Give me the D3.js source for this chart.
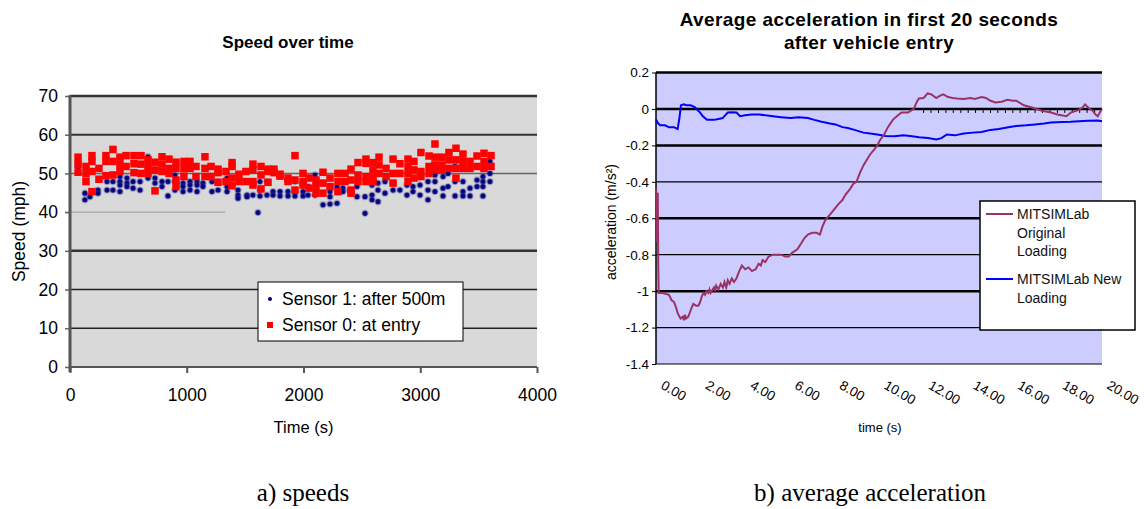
<!DOCTYPE html>
<html><head><meta charset="utf-8">
<script src="https://cdn.jsdelivr.net/npm/d3@7/dist/d3.min.js"></script>
<style>
body{margin:0;background:#fff;}
svg{display:block;font-family:"Liberation Sans",Arial,sans-serif;}
</style></head>
<body>
<svg id="c" width="1144" height="509"></svg>
<script>
// ---------- Left chart data: speed over time ----------
const speedTicks = [0,10,20,30,40,50,60,70];
const timeTicks = [0,1000,2000,3000,4000];
const speedSeriesNames = ["Sensor 1: after 500m","Sensor 0: at entry"];
// Sensor 0 (at entry): [time (s), speed (mph)]
const sensor0 = [
[69,54.2],[69,52.3],[69,50.3],[137,51.8],[137,49.9],[137,47.9],
[188,54.6],[188,53.1],[188,50.5],[188,45.3],[248,51.3],[248,48.5],
[308,54.6],[308,53.1],[308,49.4],[368,56.2],[368,53.1],[368,49.6],
[428,54.2],[428,52.3],[428,50.5],[480,54.6],[480,51.8],
[548,54.6],[548,52.5],[548,50.2],[608,54.6],[608,52.4],[608,50.0],
[668,53.5],[668,51.8],[668,50.0],[728,52.9],[728,50.9],[728,45.5],
[788,54.3],[788,52.4],[788,50.5],[848,53.7],[848,51.3],[848,50.0],
[908,52.9],[908,51.3],[908,48.3],[908,46.6],[976,53.1],[976,51.2],[976,49.2],
[1028,53.1],[1028,51.3],[1079,51.8],[1079,49.2],[1156,54.3],[1156,51.3],[1156,49.2],
[1208,51.8],[1208,49.2],[1268,51.1],[1268,50.2],[1268,47.7],[1336,50.5],[1336,47.9],
[1388,52.8],[1388,51.8],[1388,48.8],[1388,46.8],[1447,49.8],[1447,47.9],
[1507,50.5],[1507,47.9],[1567,52.4],[1567,50.9],[1567,47.9],[1567,47.0],
[1636,51.8],[1636,49.6],[1636,46.0],[1696,51.1],[1696,50.5],[1696,47.7],
[1747,51.1],[1747,50.2],[1799,49.8],[1799,49.3],[1867,48.8],[1867,47.9],
[1927,54.6],[1927,48.3],[1927,45.7],[1996,50.0],[1996,47.9],[1996,47.0],
[2047,48.8],[2047,46.2],[2107,48.3],[2107,46.6],[2107,44.9],
[2167,50.3],[2167,47.5],[2167,44.9],[2227,48.8],[2227,46.6],
[2295,50.0],[2295,47.9],[2295,45.3],[2355,50.0],[2355,47.9],
[2407,51.1],[2407,48.3],[2407,45.7],[2407,44.9],[2467,52.8],[2467,49.6],[2467,47.9],
[2535,53.7],[2535,52.6],[2535,49.2],[2535,47.9],[2595,52.8],[2595,50.9],[2595,49.0],[2595,47.9],
[2647,54.2],[2647,52.2],[2647,50.0],[2707,51.3],[2707,49.2],
[2767,53.7],[2767,50.0],[2767,47.5],[2826,52.5],[2826,50.0],
[2895,53.7],[2895,51.8],[2895,49.9],[2895,47.9],[2946,53.1],[2946,50.9],[2946,48.8],
[3006,55.4],[3006,50.5],[3006,49.2],[3075,54.5],[3075,51.8],[3075,50.0],
[3126,57.6],[3126,54.2],[3126,52.2],[3126,50.9],[3186,54.2],[3186,52.2],[3186,50.9],
[3246,55.4],[3246,53.5],[3246,51.3],[3306,56.5],[3306,53.5],[3306,51.3],[3306,48.8],
[3366,55.0],[3366,53.1],[3366,51.3],[3426,53.1],[3426,51.3],[3486,54.5],[3486,51.8],
[3546,55.2],[3546,53.1],[3546,51.3],[3606,54.6],[3606,51.8]
];
// Sensor 1 (after 500m): [time (s), speed (mph)]
const sensor1 = [
[69,53.0],[69,51.6],[128,44.9],[128,43.2],[171,44.0],[240,45.7],[240,44.9],
[317,47.9],[317,45.7],[368,47.9],[368,45.7],[428,49.2],[428,47.9],[428,47.0],[428,45.3],
[488,48.8],[488,47.5],[488,46.6],[540,47.9],[540,46.2],[600,47.9],[600,45.7],
[668,54.3],[668,48.8],[728,48.8],[728,47.5],[788,47.9],[788,46.6],[839,47.9],[839,44.2],
[899,49.6],[899,47.9],[899,45.7],[968,47.5],[968,46.6],[968,45.3],
[1028,47.9],[1028,47.0],[1028,45.7],[1088,47.9],[1088,47.0],[1088,45.3],
[1139,47.5],[1139,46.6],[1216,47.9],[1216,45.3],[1268,47.9],[1268,45.7],
[1345,48.8],[1345,46.6],[1345,45.3],[1388,47.0],[1439,45.7],[1439,44.4],[1439,43.6],
[1516,44.4],[1516,44.0],[1567,44.4],[1627,47.9],[1627,45.7],[1627,44.2],[1610,39.9],
[1687,47.9],[1687,44.4],[1739,45.3],[1739,44.4],[1799,45.3],[1799,44.2],
[1867,45.3],[1867,44.2],[1927,47.9],[1927,45.3],[1927,44.2],[1996,45.3],[1996,44.2],
[2039,46.6],[2039,44.4],[2098,49.6],[2098,44.4],[2167,41.9],
[2227,45.3],[2227,44.0],[2227,42.1],[2287,46.6],[2287,42.3],[2338,46.2],[2338,45.3],
[2398,45.6],[2458,46.6],[2458,44.0],[2527,44.0],[2527,39.7],
[2587,47.0],[2587,44.4],[2587,43.2],[2638,47.5],[2638,45.7],[2638,42.7],
[2698,47.9],[2698,44.9],[2767,47.5],[2767,45.7],[2826,45.7],
[2886,47.0],[2886,44.4],[2938,46.6],[2938,45.3],[2998,47.0],[2998,44.4],
[3066,47.9],[3066,45.7],[3066,43.2],[3126,49.6],[3126,47.9],[3126,45.3],
[3195,49.2],[3195,46.2],[3195,44.2],[3238,50.0],[3238,46.6],
[3298,51.8],[3298,47.9],[3298,44.2],[3366,47.9],[3366,45.3],[3366,44.2],
[3426,46.2],[3426,44.2],[3486,48.3],[3486,46.6],
[3537,49.2],[3537,47.9],[3537,46.6],[3537,44.2],[3597,53.1],[3597,51.8],[3597,50.0],[3597,47.9]
];

// ---------- Right chart data: average acceleration ----------
const accTicks = [0.2,0,-0.2,-0.4,-0.6,-0.8,-1,-1.2,-1.4];
const accTickLabels = ["0.2","0","-0.2","-0.4","-0.6","-0.8","-1","-1.2","-1.4"];
const secTicks = [0,2,4,6,8,10,12,14,16,18,20];
const secTickLabels = ["0.00","2.00","4.00","6.00","8.00","10.00","12.00","14.00","16.00","18.00","20.00"];
const accSeriesNames = [["MITSIMLab","Original","Loading"],["MITSIMLab New","Loading"]];
const originalLoading = [
[0,-0.44],[0.02,-0.47],[0.04,-0.73],[0.06,-0.5],[0.08,-0.46],[0.1,-0.85],[0.12,-1.01],[0.3,-1.01],[0.58,-1.02],
[0.7,-1.05],[0.81,-1.06],[0.9,-1.09],[0.97,-1.12],[1.05,-1.14],[1.1,-1.15],[1.2,-1.14],[1.25,-1.16],[1.3,-1.13],[1.35,-1.15],
[1.45,-1.14],[1.51,-1.12],[1.6,-1.09],[1.67,-1.07],[1.8,-1.08],[1.9,-1.08],[1.98,-1.06],[2.05,-1.03],[2.13,-1.01],
[2.2,-1.02],[2.25,-1.0],[2.35,-1.01],[2.4,-0.99],[2.45,-1.01],[2.55,-0.99],[2.6,-0.98],[2.65,-1.0],[2.7,-0.97],[2.8,-0.99],[2.9,-0.96],[3.0,-0.98],
[3.07,-0.95],[3.15,-0.98],[3.22,-0.94],[3.3,-0.96],[3.4,-0.93],[3.5,-0.95],[3.61,-0.93],[3.7,-0.9],[3.85,-0.86],
[4.0,-0.88],[4.15,-0.87],[4.3,-0.89],[4.47,-0.88],[4.6,-0.85],[4.7,-0.86],[4.78,-0.83],[4.9,-0.84],[5.05,-0.81],[5.25,-0.8],
[5.4,-0.8],[5.6,-0.8],[5.8,-0.81],[5.95,-0.81],[6.1,-0.79],[6.34,-0.77],[6.5,-0.74],[6.65,-0.71],[6.81,-0.69],
[7.0,-0.68],[7.2,-0.68],[7.35,-0.69],[7.45,-0.65],[7.59,-0.61],[7.8,-0.58],[8.0,-0.55],[8.2,-0.52],[8.36,-0.5],
[8.5,-0.47],[8.7,-0.44],[8.85,-0.41],[8.99,-0.4],[9.15,-0.35],[9.3,-0.31],[9.45,-0.28],[9.6,-0.25],[9.8,-0.22],
[9.92,-0.2],[10.05,-0.17],[10.23,-0.14],[10.4,-0.1],[10.62,-0.06],[10.8,-0.04],[11.01,-0.02],[11.3,-0.02],
[11.56,0],[11.7,0.04],[11.79,0.057],[12.0,0.06],[12.18,0.085],[12.35,0.08],[12.57,0.06],[12.7,0.07],[12.88,0.08],
[13.1,0.065],[13.3,0.06],[13.5,0.057],[13.8,0.055],[14.1,0.06],[14.3,0.055],[14.6,0.065],[14.8,0.06],[15.0,0.045],
[15.22,0.035],[15.5,0.04],[15.76,0.05],[16.0,0.045],[16.15,0.045],[16.5,0.02],[16.93,0.005],[17.3,-0.01],
[17.71,-0.02],[18.0,-0.03],[18.41,-0.04],[18.6,-0.02],[18.96,-0.005],[19.1,0.005],[19.24,0.025],[19.4,0.005],
[19.58,-0.01],[19.7,-0.03],[19.81,-0.04],[19.9,-0.02],[20,0.0]
];
const newLoading = [
[0,-0.058],[0.1,-0.08],[0.19,-0.09],[0.4,-0.09],[0.58,-0.1],[0.8,-0.1],[0.97,-0.11],[1.05,-0.05],[1.12,0.02],
[1.25,0.025],[1.36,0.02],[1.55,0.02],[1.74,0.01],[1.85,-0.005],[1.98,-0.02],[2.1,-0.04],[2.29,-0.06],[2.45,-0.06],
[2.6,-0.06],[2.8,-0.055],[2.99,-0.05],[3.1,-0.035],[3.22,-0.02],[3.4,-0.018],[3.61,-0.02],[3.77,-0.04],[4.0,-0.035],
[4.3,-0.03],[4.63,-0.03],[4.9,-0.035],[5.25,-0.04],[5.6,-0.045],[6.03,-0.05],[6.4,-0.045],[6.81,-0.05],[7.1,-0.06],
[7.43,-0.07],[7.8,-0.08],[8.05,-0.085],[8.36,-0.1],[8.6,-0.105],[8.9,-0.115],[9.3,-0.13],[9.6,-0.135],[9.92,-0.14],
[10.3,-0.148],[10.7,-0.15],[11.1,-0.145],[11.48,-0.15],[11.8,-0.155],[12.2,-0.16],[12.57,-0.168],[12.8,-0.16],
[13.04,-0.14],[13.4,-0.145],[13.8,-0.135],[14.2,-0.13],[14.6,-0.127],[15.0,-0.115],[15.37,-0.11],[15.8,-0.1],
[16.15,-0.094],[16.6,-0.09],[17.0,-0.085],[17.4,-0.08],[17.71,-0.075],[18.2,-0.072],[18.6,-0.07],[18.96,-0.067],
[19.4,-0.065],[19.8,-0.063],[20,-0.067]
];
const zeroLineMinorTicks = [12,12.33,12.67,13,13.33,13.67,14,14.33,14.67,15,15.33,15.67,16,16.33,16.67,17,17.33,17.67,18,18.33,18.67,19,19.33,19.67];

const svg = d3.select("#c");

// ================= LEFT CHART =================
{
  const x = d3.scaleLinear().domain([0,4000]).range([70,537]);
  const y = d3.scaleLinear().domain([0,70]).range([367,96]);
  const g = svg.append("g");
  g.append("rect").attr("x",x(0)).attr("y",y(70)).attr("width",x(4000)-x(0)).attr("height",y(0)-y(70)).attr("fill","#d9d9d9");
  const gridStyle = {70:[2.5,"#333"],60:[2,"#333"],50:[1.5,"#666"],30:[2.5,"#333"],20:[1.5,"#222"],10:[1.5,"#222"]};
  speedTicks.forEach(v=>{
    if(gridStyle[v]){
      g.append("line").attr("x1",x(0)).attr("x2",x(4000)).attr("y1",y(v)).attr("y2",y(v))
        .attr("stroke",gridStyle[v][1]).attr("stroke-width",gridStyle[v][0]);
    }
  });
  g.append("line").attr("x1",x(0)-5).attr("x2",x(1330)).attr("y1",y(40)).attr("y2",y(40)).attr("stroke","#9a9a9a").attr("stroke-width",1);
  const yAxis = d3.axisLeft(y).tickValues(speedTicks).tickSize(5).tickPadding(7);
  const ya = g.append("g").attr("transform",`translate(${x(0)},0)`).call(yAxis);
  ya.select(".domain").remove();
  ya.selectAll(".tick line").attr("stroke","#666").attr("stroke-width",1.5);
  ya.selectAll("text").attr("font-size",17.5).attr("fill","#000").attr("font-family","Liberation Sans");
  const xAxis = d3.axisBottom(x).tickValues(timeTicks).tickSize(6).tickPadding(16).tickFormat(d3.format("d"));
  const xa = g.append("g").attr("transform",`translate(0,${y(0)})`).call(xAxis);
  xa.select(".domain").remove();
  xa.selectAll(".tick line").attr("stroke","#555").attr("stroke-width",2);
  xa.selectAll("text").attr("font-size",17.5).attr("fill","#000").attr("font-family","Liberation Sans");
  g.append("line").attr("x1",x(0)).attr("x2",x(4000)).attr("y1",y(0)).attr("y2",y(0)).attr("stroke","#555").attr("stroke-width",2);
  g.append("line").attr("x1",x(0)).attr("x2",x(0)).attr("y1",y(70)-1).attr("y2",y(0)+5).attr("stroke","#555").attr("stroke-width",3);

  // blue markers (sensor 1) drawn first, red squares on top
  g.append("g").selectAll("circle").data(sensor1).join("circle")
    .attr("cx",d=>x(d[0])).attr("cy",d=>y(d[1])).attr("r",2.6)
    .attr("fill","#000080").attr("stroke","rgba(60,60,150,0.3)").attr("stroke-width",2.2);
  g.append("g").selectAll("rect").data(sensor0).join("rect")
    .attr("x",d=>x(d[0])-3.75).attr("y",d=>y(d[1])-3.75).attr("width",7.5).attr("height",7.5).attr("fill","#ff0000");

  g.append("text").attr("x",288).attr("y",48).attr("text-anchor","middle").attr("font-size",17).attr("font-weight","bold").text("Speed over time");
  g.append("text").attr("transform",`translate(25,${(y(0)+y(70))/2}) rotate(-90)`).attr("text-anchor","middle").attr("font-size",17.5).text("Speed (mph)");
  g.append("text").attr("x",(x(0)+x(4000))/2).attr("y",433).attr("text-anchor","middle").attr("font-size",16.5).text("Time (s)");

  const lg = g.append("g");
  lg.append("rect").attr("x",258).attr("y",282).attr("width",205).attr("height",59).attr("fill","#fff").attr("stroke","#000").attr("stroke-width",1);
  lg.append("circle").attr("cx",270).attr("cy",299).attr("r",2).attr("fill","#000080");
  lg.append("rect").attr("x",267).attr("y",322).attr("width",6).attr("height",6).attr("fill","#ff0000");
  lg.append("text").attr("x",282).attr("y",305).attr("font-size",17.5).text(speedSeriesNames[0]);
  lg.append("text").attr("x",282).attr("y",331).attr("font-size",17.5).text(speedSeriesNames[1]);

  svg.append("text").attr("x",303).attr("y",501).attr("text-anchor","middle").attr("font-family","Liberation Serif").attr("font-size",25).text("a) speeds");
}

// ================= RIGHT CHART =================
{
  const x = d3.scaleLinear().domain([0,20]).range([656,1102]);
  const y = d3.scaleLinear().domain([-1.4,0.2]).range([364,72.5]);
  const g = svg.append("g");
  g.append("rect").attr("x",x(0)).attr("y",y(0.2)).attr("width",x(20)-x(0)).attr("height",y(-1.4)-y(0.2)).attr("fill","#ccccff");
  const thick = new Set([0.2,0,-0.2,-0.6,-1]);
  accTicks.forEach(v=>{
    g.append("line").attr("x1",x(0)).attr("x2",x(20)).attr("y1",y(v)).attr("y2",y(v))
      .attr("stroke","#000").attr("stroke-width",thick.has(v)?2.5:1.2);
  });
  g.append("g").selectAll("line").data(zeroLineMinorTicks).join("line")
    .attr("x1",d=>x(d)).attr("x2",d=>x(d)).attr("y1",y(0)).attr("y2",y(0)+4).attr("stroke","#000").attr("stroke-width",1);
  const yAxis = d3.axisLeft(y).tickValues(accTicks).tickFormat((d,i)=>accTickLabels[i]).tickSize(4).tickPadding(3);
  const ya = g.append("g").attr("transform",`translate(${x(0)},0)`).call(yAxis);
  ya.select(".domain").remove();
  ya.selectAll(".tick line").attr("stroke","#000");
  ya.selectAll("text").attr("font-size",13.5).attr("fill","#000").attr("font-family","Liberation Sans");
  g.append("line").attr("x1",x(0)).attr("x2",x(0)).attr("y1",y(0.2)).attr("y2",y(-1.4)).attr("stroke","#000").attr("stroke-width",1.5);

  g.append("g").selectAll("text").data(secTicks).join("text")
    .attr("transform",(d)=>`translate(${x(d)+4},${y(-1.4)+24}) rotate(30)`)
    .attr("font-size",13.5).attr("fill","#000").text((d,i)=>secTickLabels[i]);

  const line = d3.line().x(d=>x(d[0])).y(d=>y(d[1]));
  g.append("path").datum(newLoading).attr("d",line).attr("fill","none").attr("stroke","#0000ff").attr("stroke-width",2);
  g.append("path").datum(originalLoading).attr("d",line).attr("fill","none").attr("stroke","#993366").attr("stroke-width",2);

  g.append("text").attr("x",869).attr("y",26).attr("text-anchor","middle").attr("font-size",19).attr("font-weight","bold").attr("letter-spacing",0.4).text("Average acceleration in first 20 seconds");
  g.append("text").attr("x",869).attr("y",49).attr("text-anchor","middle").attr("font-size",19).attr("font-weight","bold").attr("letter-spacing",0.4).text("after vehicle entry");
  g.append("text").attr("transform",`translate(616,222) rotate(-90)`).attr("text-anchor","middle").attr("font-size",14).text("acceleration (m/s²)");
  g.append("text").attr("x",880).attr("y",432).attr("text-anchor","middle").attr("font-size",13).text("time (s)");

  const lg = g.append("g");
  lg.append("rect").attr("x",980).attr("y",201).attr("width",155).attr("height",129).attr("fill","#fff").attr("stroke","#000").attr("stroke-width",1.5);
  const cols = ["#993366","#0000ff"];
  const startY = [214,279];
  accSeriesNames.forEach((lines,i)=>{
    lg.append("line").attr("x1",986).attr("x2",1013).attr("y1",startY[i]).attr("y2",startY[i]).attr("stroke",cols[i]).attr("stroke-width",2);
    lines.forEach((t,j)=>{
      lg.append("text").attr("x",1017).attr("y",startY[i]+5+j*18.5).attr("font-size",14).attr("fill","#111").text(t);
    });
  });

  svg.append("text").attr("x",870).attr("y",501).attr("text-anchor","middle").attr("font-family","Liberation Serif").attr("font-size",25).text("b) average acceleration");
}
</script>
</body></html>
